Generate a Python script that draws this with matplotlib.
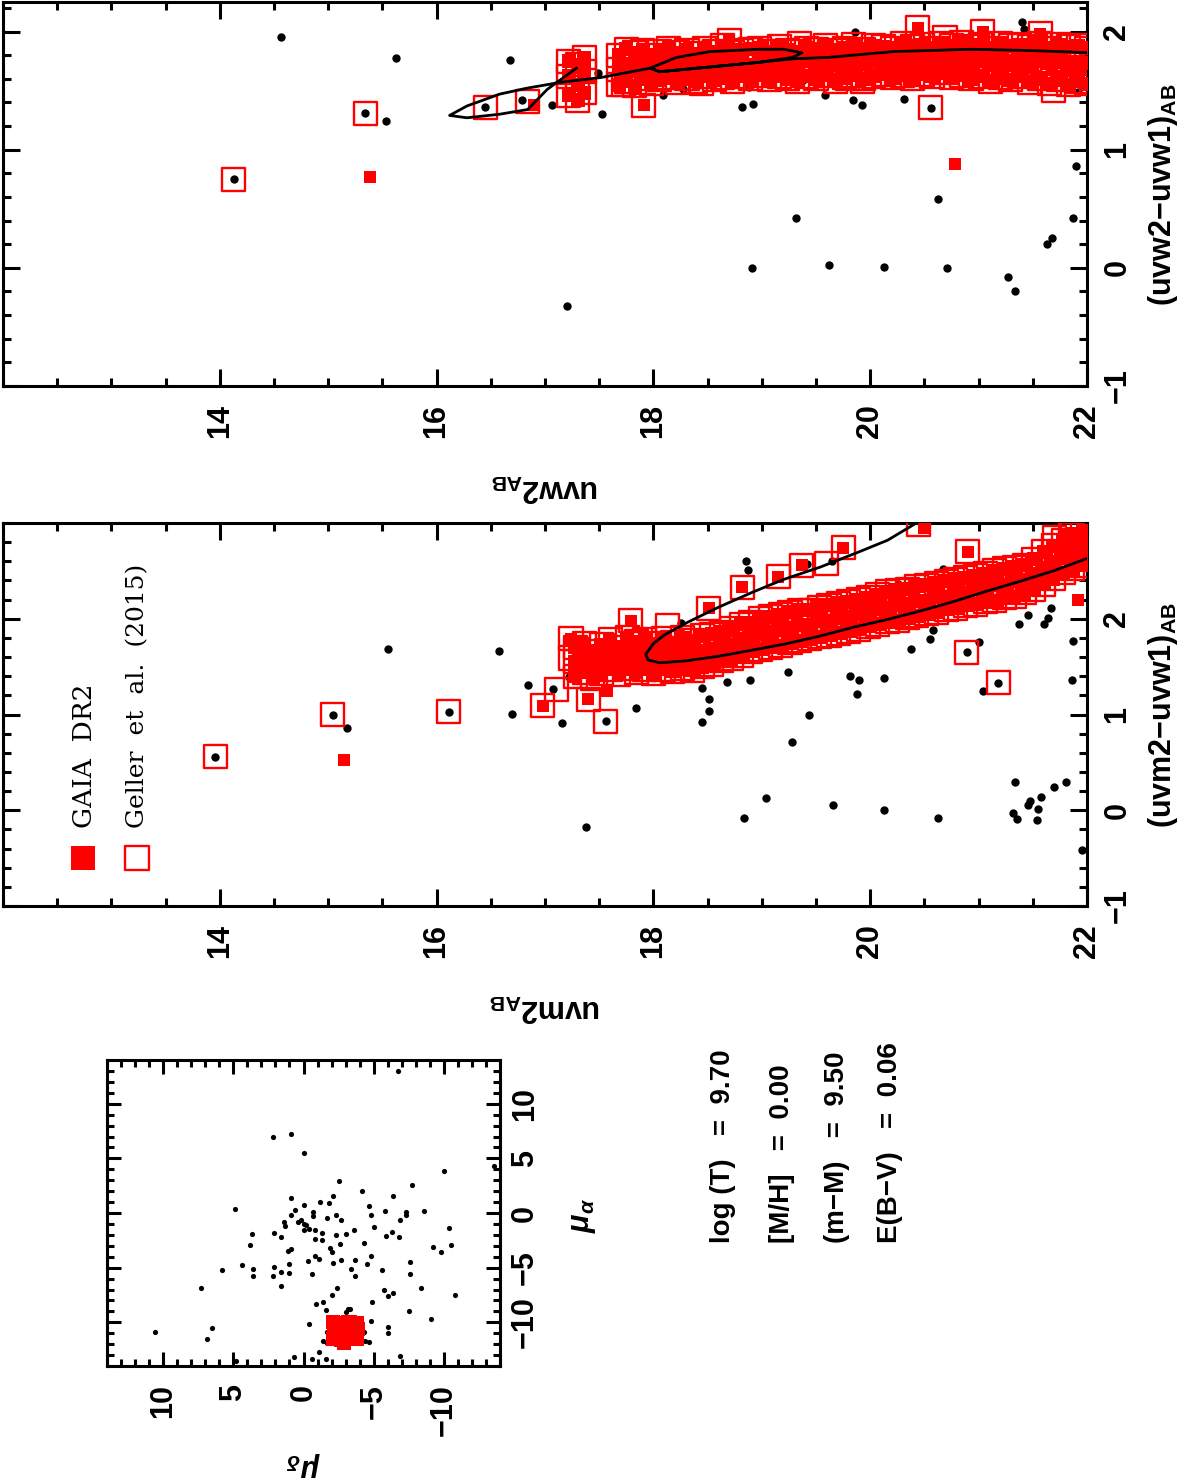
import matplotlib
matplotlib.use("Agg")
import matplotlib.pyplot as plt
from matplotlib.ticker import MultipleLocator

plt.rcParams["font.family"] = ["Liberation Sans", "DejaVu Sans"]
plt.rcParams["font.weight"] = "bold"
plt.rcParams["mathtext.fontset"] = "custom"
plt.rcParams["mathtext.rm"] = "Liberation Sans:bold"
plt.rcParams["mathtext.bf"] = "Liberation Sans:bold"
plt.rcParams["mathtext.it"] = "Liberation Sans:italic:bold"

RED = "#FF0000"

# ── Data: uvw2 vs (uvw2-uvw1) ────────────────────────────────────────────────

TOP_ALL_MAG = [14.56, 15.63, 15.34, 15.53, 14.13, 16.68, 16.45, 16.79, 17.06, 17.53,
               17.73, 18.09, 18.27, 18.88, 18.82, 18.92, 19.32, 18.91, 17.20, 17.49,
               19.58, 19.84, 19.92, 20.31, 20.56, 20.63, 19.62, 20.13, 20.71, 21.27,
               21.34, 21.63, 21.68, 21.87, 21.90, 21.40, 21.42, 19.86, 21.08, 21.28,
               21.65, 21.92, 20.98, 20.27, 19.38]
TOP_ALL_COL = [1.95, 1.78, 1.31, 1.24, 0.75, 1.76, 1.36, 1.42, 1.38, 1.30,
               1.89, 1.46, 1.51, 1.53, 1.36, 1.39, 0.42, 0.00, -0.32, 1.65,
               1.46, 1.42, 1.38, 1.43, 1.35, 0.58, 0.02, 0.01, 0.00, -0.08,
               -0.20, 0.20, 0.25, 0.42, 0.86, 2.08, 2.02, 2.00, 1.61, 1.57,
               1.54, 1.49, 1.72, 1.65, 1.59]

TOP_GELLER_MAG = [14.13, 15.34, 16.45, 16.84, 20.56, 17.91, 18.70, 19.35, 20.44, 21.04,
                  21.57, 20.69, 18.44, 19.79, 19.93, 21.69, 17.72]
TOP_GELLER_COL = [0.75, 1.31, 1.36, 1.41, 1.36, 1.37, 1.92, 1.90, 2.03, 2.00,
                  1.98, 1.95, 1.56, 1.60, 1.58, 1.50, 1.55]

TOP_GAIA_MAG = [15.39, 20.78, 16.90, 17.91, 20.44, 21.57, 18.70, 21.04]
TOP_GAIA_COL = [0.77, 0.88, 1.38, 1.38, 2.03, 1.98, 1.92, 2.00]

# dense cluster sequence (members in both catalogues)
TOP_BAND_MAG = [17.22, 17.30, 17.36, 17.68, 17.75, 17.83, 17.90, 17.98, 18.06,
                18.14, 18.22, 18.31, 18.39, 18.47, 18.56, 18.64, 18.73, 18.81,
                18.90, 18.98, 19.07, 19.16, 19.24, 19.33, 19.41, 19.50, 19.59,
                19.68, 19.76, 19.85, 19.94, 20.03, 20.12, 20.21, 20.30, 20.39,
                20.48, 20.57, 20.66, 20.75, 20.84, 20.93, 21.02, 21.11, 21.20,
                21.29, 21.38, 21.47, 21.56, 21.65, 21.74, 21.83, 21.92, 22.00]
TOP_BAND_LO = [1.46, 1.42, 1.48, 1.55, 1.58, 1.54, 1.60, 1.56, 1.59,
               1.61, 1.57, 1.60, 1.58, 1.62, 1.59, 1.61, 1.58, 1.62,
               1.60, 1.63, 1.59, 1.62, 1.60, 1.58, 1.62, 1.60, 1.63,
               1.58, 1.61, 1.63, 1.60, 1.62, 1.64, 1.61, 1.63, 1.60,
               1.64, 1.62, 1.65, 1.61, 1.63, 1.60, 1.62, 1.58, 1.61,
               1.59, 1.62, 1.57, 1.60, 1.56, 1.59, 1.55, 1.58, 1.56]
TOP_BAND_MID = [1.62, 1.55, 1.66, 1.68, 1.71, 1.67, 1.72, 1.69, 1.71,
                1.74, 1.70, 1.73, 1.69, 1.75, 1.71, 1.74, 1.70, 1.73,
                1.72, 1.75, 1.71, 1.74, 1.72, 1.70, 1.75, 1.73, 1.76,
                1.72, 1.74, 1.77, 1.73, 1.75, 1.77, 1.74, 1.76, 1.75,
                1.78, 1.74, 1.77, 1.75, 1.78, 1.74, 1.76, 1.73, 1.77,
                1.74, 1.76, 1.72, 1.75, 1.73, 1.76, 1.72, 1.74, 1.73]
TOP_BAND_HI = [1.75, 1.72, 1.78, 1.80, 1.85, 1.82, 1.84, 1.80, 1.83,
               1.86, 1.82, 1.84, 1.81, 1.86, 1.83, 1.88, 1.82, 1.84,
               1.85, 1.86, 1.83, 1.87, 1.84, 1.83, 1.86, 1.85, 1.88,
               1.84, 1.86, 1.89, 1.85, 1.88, 1.87, 1.86, 1.90, 1.87,
               1.89, 1.86, 1.90, 1.88, 1.91, 1.87, 1.89, 1.86, 1.90,
               1.88, 1.89, 1.87, 1.90, 1.86, 1.89, 1.87, 1.88, 1.86]

ISO_TOP_MAG = [22.05, 21.44, 20.92, 20.21, 19.60, 19.30, 18.98, 18.52, 18.06, 17.97,
               18.21, 18.52, 18.98, 19.20, 19.37, 19.28, 18.98, 18.52, 18.06, 17.97,
               17.51, 17.14, 16.83, 16.58, 16.28, 16.12, 16.28, 16.58, 16.84, 17.02,
               17.29]
ISO_TOP_COL = [1.82, 1.84, 1.85, 1.83, 1.78, 1.77, 1.74, 1.70, 1.66, 1.69,
               1.78, 1.83, 1.85, 1.85, 1.82, 1.78, 1.74, 1.70, 1.66, 1.69,
               1.61, 1.57, 1.52, 1.47, 1.37, 1.29, 1.27, 1.30, 1.34, 1.51,
               1.69]

# ── Data: uvm2 vs (uvm2-uvw1) ────────────────────────────────────────────────

MID_ALL_MAG = [13.96, 15.04, 15.17, 15.55, 16.11, 16.58, 16.84, 16.70, 17.07, 17.16,
               17.22, 17.29, 17.56, 17.84, 17.38, 18.85, 18.87, 18.45, 18.51, 18.51,
               18.45, 18.68, 18.89, 19.24, 19.28, 19.04, 18.84, 18.25, 19.44, 19.81,
               19.90, 19.88, 20.13, 20.38, 20.55, 20.58, 20.26, 20.67, 20.89, 21.00,
               21.04, 21.18, 21.37, 21.46, 21.60, 21.64, 21.67, 21.87, 21.86, 21.50,
               19.66, 20.13, 20.63, 21.34, 21.32, 21.35, 21.47, 21.46, 21.58, 21.55,
               21.54, 21.70, 21.81, 21.95, 19.75, 19.65, 19.42]
MID_ALL_COL = [0.56, 1.00, 0.86, 1.68, 1.03, 1.66, 1.31, 1.01, 1.27, 0.91,
               1.39, 1.44, 0.93, 1.07, -0.17, 2.60, 2.51, 1.28, 1.16, 1.04,
               0.92, 1.34, 1.36, 1.44, 0.71, 0.13, -0.08, 1.96, 1.00, 1.40,
               1.36, 1.21, 1.38, 1.68, 1.79, 1.88, 2.36, 2.52, 1.65, 1.76,
               1.25, 1.33, 1.95, 2.04, 1.94, 2.01, 2.11, 1.77, 1.36, 2.63,
               0.05, 0.00, -0.08, 0.29, -0.03, -0.09, 0.10, 0.05, 0.14, 0.01,
               -0.10, 0.24, 0.30, -0.41, 2.76, 2.60, 2.57]

MID_GELLER_MAG = [13.96, 15.04, 16.11, 16.98, 17.11, 17.24, 17.24, 17.40, 17.56, 18.51,
                  18.82, 19.15, 19.37, 19.60, 19.75, 20.45, 20.90, 20.89, 21.18, 21.70,
                  21.85, 21.95, 17.79, 18.13]
MID_GELLER_COL = [0.56, 1.00, 1.03, 1.09, 1.26, 1.79, 1.59, 1.16, 0.93, 2.11,
                  2.33, 2.44, 2.56, 2.58, 2.74, 2.98, 2.70, 1.65, 1.33, 2.85,
                  2.90, 2.80, 1.98, 1.93]

MID_GAIA_MAG = [15.15, 16.98, 17.24, 17.40, 17.57, 18.51, 18.82, 19.15, 19.37, 19.75,
                20.50, 20.90, 21.92, 17.79, 21.80, 21.95]
MID_GAIA_COL = [0.52, 1.09, 1.79, 1.16, 1.25, 2.11, 2.33, 2.44, 2.56, 2.74,
                2.95, 2.70, 2.20, 1.98, 2.88, 2.82]

MID_BAND_MAG = [17.28, 17.36, 17.44, 17.52, 17.60, 17.68, 17.76, 17.84, 17.92,
                18.00, 18.09, 18.18, 18.27, 18.36, 18.45, 18.54, 18.63, 18.72,
                18.81, 18.90, 18.99, 19.08, 19.17, 19.26, 19.35, 19.44, 19.53,
                19.62, 19.71, 19.80, 19.89, 19.98, 20.07, 20.16, 20.25, 20.34,
                20.43, 20.52, 20.61, 20.70, 20.79, 20.88, 20.97, 21.06, 21.15,
                21.24, 21.33, 21.42, 21.51, 21.60, 21.69, 21.78, 21.87, 21.96]
MID_BAND_LO = [1.40, 1.44, 1.38, 1.43, 1.47, 1.42, 1.48, 1.44, 1.47,
               1.43, 1.47, 1.45, 1.48, 1.46, 1.50, 1.52, 1.56, 1.58,
               1.62, 1.66, 1.68, 1.70, 1.72, 1.75, 1.77, 1.79, 1.81,
               1.83, 1.85, 1.87, 1.89, 1.92, 1.94, 1.97, 1.98, 2.01,
               2.03, 2.05, 2.07, 2.10, 2.11, 2.14, 2.15, 2.18, 2.19,
               2.22, 2.23, 2.27, 2.31, 2.36, 2.42, 2.48, 2.52, 2.56]
MID_BAND_MID = [1.55, 1.60, 1.52, 1.58, 1.62, 1.56, 1.64, 1.60, 1.63,
                1.58, 1.62, 1.60, 1.64, 1.61, 1.66, 1.68, 1.72, 1.73,
                1.79, 1.80, 1.85, 1.84, 1.89, 1.89, 1.93, 1.93, 1.98,
                1.97, 2.01, 2.02, 2.05, 2.06, 2.10, 2.11, 2.14, 2.15,
                2.19, 2.19, 2.23, 2.23, 2.27, 2.26, 2.31, 2.30, 2.35,
                2.35, 2.39, 2.40, 2.47, 2.51, 2.59, 2.63, 2.69, 2.71]
MID_BAND_HI = [1.70, 1.74, 1.66, 1.73, 1.78, 1.70, 1.80, 1.76, 1.78,
               1.74, 1.79, 1.75, 1.80, 1.77, 1.82, 1.84, 1.86, 1.90,
               1.94, 1.96, 2.00, 2.02, 2.04, 2.07, 2.09, 2.09, 2.12,
               2.14, 2.16, 2.18, 2.20, 2.22, 2.25, 2.28, 2.30, 2.31,
               2.34, 2.35, 2.37, 2.39, 2.41, 2.43, 2.45, 2.47, 2.50,
               2.52, 2.54, 2.56, 2.62, 2.70, 2.76, 2.82, 2.88, 2.92]

ISO_MID_MAG = [20.50, 20.16, 19.90, 19.54, 19.20, 18.92, 18.60, 18.31, 18.10, 18.00,
               17.93, 17.95, 18.06, 18.30, 18.61, 18.90, 19.23, 19.54, 19.84, 20.15,
               20.46, 20.77, 21.08, 21.38, 21.69, 22.05]
ISO_MID_COL = [3.05, 2.82, 2.70, 2.54, 2.41, 2.28, 2.12, 1.96, 1.83, 1.74,
               1.63, 1.57, 1.54, 1.56, 1.61, 1.67, 1.74, 1.82, 1.91, 1.99,
               2.08, 2.18, 2.29, 2.39, 2.50, 2.65]

# ── Data: proper motions ─────────────────────────────────────────────────────

PM_DEC = [10.6, 6.5, 6.9, 7.3, 5.8, 4.9, 4.4, 3.7, 3.8, 3.6,
          3.6, 2.2, 0.9, 0.0, 2.1, 2.2, 2.1, 1.6, 1.6, 1.6,
          1.4, 1.3, 1.1, 0.9, 1.0, 1.0, 0.9, 0.9, 0.6, 0.4,
          0.2, 0.0, 0.0, 0.0, -0.2, -0.3, -0.4, -0.6, -0.7, -0.7,
          -0.8, -0.8, -0.8, -0.9, -1.1, -1.2, -1.3, -1.3, -1.4, -1.6,
          -1.7, -1.8, -1.9, -2.0, -2.1, -2.0, -2.1, -2.3, -2.3, -2.4,
          -2.5, -2.6, -2.7, -2.7, -3.0, -3.3, -3.4, -3.6, -3.7, -3.7,
          -4.2, -4.3, -4.5, -4.7, -4.8, -4.8, -4.9, -5.0, -4.8, -4.7,
          -5.6, -5.7, -5.8, -5.9, -6.0, -6.0, -6.0, -6.3, -6.4, -6.4,
          -6.7, -6.8, -6.9, -7.3, -7.3, -7.6, -7.6, -7.5, -7.7, -8.4,
          -8.6, -9.1, -9.2, -9.8, -10.0, -10.4, -10.5, -10.8, -13.6, 0.7,
          -0.6, -1.6, -1.1, -1.4, -1.7, -1.7, -2.5, -3.0, -3.2, -0.4,
          -6.9, 4.8, -4.4, -4.3]
PM_RA = [-10.9, -10.5, -11.5, -6.9, -5.2, 0.4, -4.8, -1.9, -2.9, -5.1,
         -5.8, 7.0, 7.2, 5.5, -1.8, -5.8, -4.9, -2.2, -5.4, -6.7,
         -0.8, -1.2, -3.5, -3.3, -4.7, -5.5, 1.4, -0.2, 0.3, -0.8,
         -0.6, 0.7, -1.0, -1.6, -1.1, -4.4, -1.5, -5.6, 0.1, -0.3,
         -2.4, -1.6, -3.9, -8.3, -4.2, 1.0, -1.8, -2.5, -8.1, -8.9,
         -0.5, 0.9, -3.2, -3.6, -4.6, -7.5, 1.6, -2.0, -0.2, -6.9,
         2.9, -2.8, -0.6, -4.3, -1.9, -8.8, -5.1, -1.6, -4.3, -5.8,
         2.0, -2.7, -4.7, 0.6, -0.2, -3.9, -8.1, -1.3, -9.9, -11.8,
         -5.2, -7.0, 0.2, -2.1, -7.6, -10.4, -11.0, -1.7, -7.3, 1.6,
         13.0, -2.2, -0.6, 0.1, -0.2, -4.5, -5.6, -9.0, 2.6, -6.9,
         0.2, -9.7, -3.1, -3.6, 3.8, -1.4, -2.9, -7.5, 4.3, -13.2,
         -13.4, -13.4, -12.7, -11.7, -10.9, -11.9, -12.3, -9.1, -8.8, -10.2,
         -13.1, -13.5, -11.7, -10.9]

GAIA_PM_DEC = [-2.1, -2.6, -3.2, -3.8, -2.2, -2.8, -3.3, -3.9, -2.1, -2.7,
               -3.2, -3.8, -2.5, -3.0, -3.5, -2.4, -3.0, -3.6, -2.9, -3.3]
GAIA_PM_RA = [-10.0, -10.1, -9.95, -10.05, -10.7, -10.9, -10.75, -10.6, -11.5, -11.65,
              -11.4, -11.55, -10.4, -10.5, -10.3, -11.2, -11.05, -11.1, -11.85, -9.95]

PARAM_LINES = ["log (T)   =  9.70", "[M/H]   =  0.00",
               "(m\u2212M)   =  9.50", "E(B\u2212V)   =  0.06"]

# ── Layout helpers (pixel positions on the 1180x1478 page) ──────────────────

W, H = 1180, 1478
fig = plt.figure(figsize=(W / 100, H / 100), dpi=100)


def rect(x0, y0, x1, y1):
    return [x0 / W, 1 - y1 / H, (x1 - x0) / W, (y1 - y0) / H]


def ftext(x, y, s, **kw):
    fig.text(x / W, 1 - y / H, s, **kw)


def style_ax(ax, xmaj, xmin, ymaj, ymin, xpad, ypad, big, small):
    for sp in ax.spines.values():
        sp.set_linewidth(2.2)
    ax.xaxis.set_minor_locator(MultipleLocator(xmin))
    ax.yaxis.set_minor_locator(MultipleLocator(ymin))
    ax.set_xticks(xmaj, [f"{v:g}".replace("-", "\u2212") for v in xmaj],
                  rotation=90, fontsize=22, fontweight="bold")
    ax.set_yticks(ymaj, [f"{v:g}".replace("-", "\u2212") for v in ymaj],
                  rotation=90, va="center", fontsize=22, fontweight="bold")
    ax.tick_params(which="both", direction="in", top=True, bottom=True,
                   left=True, right=True, labelleft=False, labelright=True,
                   width=2.2)
    ax.tick_params(which="major", length=big)
    ax.tick_params(which="minor", length=small)
    ax.tick_params(axis="x", pad=xpad)
    ax.tick_params(axis="y", pad=ypad)


def open_box(ax, m, c):
    ax.scatter(m, c, s=275, marker="s", facecolors="none", edgecolors=RED,
               linewidths=1.7, zorder=3)


def filled_box(ax, m, c, size=75):
    ax.scatter(m, c, s=size, marker="s", color=RED, linewidths=0, zorder=4)


def cmd_panel(ax, all_m, all_c, gel_m, gel_c, gaia_m, gaia_c,
              band_m, band_rows, iso_m, iso_c, ytop):
    ax.scatter(all_m, all_c, s=36, color="black", zorder=2, linewidths=0)
    for row in band_rows:
        open_box(ax, band_m, row)
    open_box(ax, gel_m, gel_c)
    # the crowded sequence reads as a nearly solid red ribbon
    for row in band_rows:
        filled_box(ax, band_m, row, size=115)
    filled_box(ax, gaia_m, gaia_c)
    ax.plot(iso_m, iso_c, color="black", lw=2.0, zorder=5)
    ax.set_xlim(12, 22)
    ax.set_ylim(-1, ytop)


# ── Panel 1: uvw2 ────────────────────────────────────────────────────────────

ax1 = fig.add_axes(rect(3, 2, 1087, 386))
cmd_panel(ax1, TOP_ALL_MAG, TOP_ALL_COL, TOP_GELLER_MAG, TOP_GELLER_COL,
          TOP_GAIA_MAG, TOP_GAIA_COL, TOP_BAND_MAG,
          [TOP_BAND_LO, TOP_BAND_MID, TOP_BAND_HI], ISO_TOP_MAG, ISO_TOP_COL, 2.25)
style_ax(ax1, [14, 16, 18, 20, 22], 0.5, [-1, 0, 1, 2], 0.2, 13, 11, 12, 6)
ftext(545, 488, "uvw2$_{\\mathbf{AB}}$", rotation=180, ha="center", va="center",
      fontsize=22, fontweight="bold")
ftext(1163, 195, "(uvw2\u2212uvw1)$_{\\mathbf{AB}}$", rotation=90, ha="center",
      va="center", fontsize=22, fontweight="bold")

# ── Panel 2: uvm2 ────────────────────────────────────────────────────────────

ax2 = fig.add_axes(rect(3, 523, 1087, 906))
cmd_panel(ax2, MID_ALL_MAG, MID_ALL_COL, MID_GELLER_MAG, MID_GELLER_COL,
          MID_GAIA_MAG, MID_GAIA_COL, MID_BAND_MAG,
          [MID_BAND_LO, MID_BAND_MID, MID_BAND_HI], ISO_MID_MAG, ISO_MID_COL, 3.0)
style_ax(ax2, [14, 16, 18, 20, 22], 0.5, [-1, 0, 1, 2], 0.2, 13, 11, 12, 6)
ftext(545, 1008, "uvm2$_{\\mathbf{AB}}$", rotation=180, ha="center", va="center",
      fontsize=22, fontweight="bold")
ftext(1163, 715, "(uvm2\u2212uvw1)$_{\\mathbf{AB}}$", rotation=90, ha="center",
      va="center", fontsize=22, fontweight="bold")

# legend
ax2.scatter([0.0738], [0.1253], s=280, marker="s", color=RED, linewidths=0,
            transform=ax2.transAxes, clip_on=False, zorder=6)
ax2.scatter([0.1236], [0.1253], s=280, marker="s", facecolors="none",
            edgecolors=RED, linewidths=1.7, transform=ax2.transAxes,
            clip_on=False, zorder=6)
ftext(84, 828, "GAIA  DR2", rotation=90, ha="center", va="bottom",
      fontsize=19, family="DejaVu Serif", fontweight="normal")
ftext(138, 828, "Geller  et  al.  (2015)", rotation=90, ha="center", va="bottom",
      fontsize=18, family="DejaVu Serif", fontweight="normal")

# ── Panel 3: proper motions ──────────────────────────────────────────────────

ax3 = fig.add_axes(rect(107, 1060, 500, 1366))
ax3.scatter(PM_DEC, PM_RA, s=14, color="black", linewidths=0, zorder=2)
ax3.scatter(GAIA_PM_DEC, GAIA_PM_RA, s=95, marker="s", color=RED,
            linewidths=0, zorder=3)
ax3.set_xlim(14, -14)
ax3.set_ylim(-14, 14)
style_ax(ax3, [10, 5, 0, -5, -10], 1, [-10, -5, 0, 5, 10], 1, 13, 7, 10, 5)
ftext(303, 1465, r"$\mu_{\delta}$", rotation=180, ha="center", va="center",
      fontsize=22)
ftext(583, 1215, r"$\mu_{\alpha}$", rotation=90, ha="center", va="center",
      fontsize=22)

# ── Isochrone parameters ─────────────────────────────────────────────────────

for x, line in zip([723, 782, 837, 890], PARAM_LINES):
    ftext(x, 1243, line, rotation=90, ha="center", va="bottom",
          fontsize=20, fontweight="bold")

fig.savefig("out.png", dpi=100)
